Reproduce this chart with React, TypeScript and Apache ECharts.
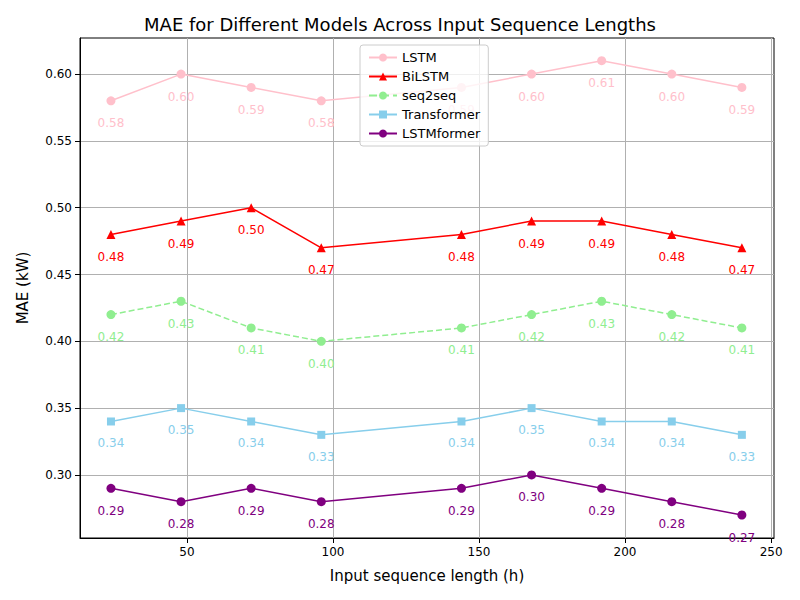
import React, { useEffect, useRef } from 'react';
import * as echarts from 'echarts';

const xValues = [24, 48, 72, 96, 144, 168, 192, 216, 240];
const lstm = [0.58, 0.6, 0.59, 0.58, 0.59, 0.6, 0.61, 0.6, 0.59];
const bilstm = [0.48, 0.49, 0.5, 0.47, 0.48, 0.49, 0.49, 0.48, 0.47];
const seq2seq = [0.42, 0.43, 0.41, 0.4, 0.41, 0.42, 0.43, 0.42, 0.41];
const transformer = [0.34, 0.35, 0.34, 0.33, 0.34, 0.35, 0.34, 0.34, 0.33];
const lstmformer = [0.29, 0.28, 0.29, 0.28, 0.29, 0.3, 0.29, 0.28, 0.27];
const xTicks = [50, 100, 150, 200, 250];
const yTicks = [0.3, 0.35, 0.4, 0.45, 0.5, 0.55, 0.6];

const seriesDefs = [
  { name: 'LSTM', data: lstm, color: '#ffc0cb', symbol: 'circle', dashed: false },
  { name: 'BiLSTM', data: bilstm, color: '#ff0000', symbol: 'triangle', dashed: false },
  { name: 'seq2seq', data: seq2seq, color: '#90ee90', symbol: 'circle', dashed: true },
  { name: 'Transformer', data: transformer, color: '#87ceeb', symbol: 'rect', dashed: false },
  { name: 'LSTMformer', data: lstmformer, color: '#800080', symbol: 'circle', dashed: false },
];

const App: React.FC = () => {
  const ref = useRef<HTMLDivElement>(null);
  useEffect(() => {
    if (!ref.current) return;
    const chart = echarts.init(ref.current, undefined, { renderer: 'svg' });
    const font = 'DejaVu Sans';
    chart.setOption({
      animation: false,
      backgroundColor: '#fff',
      textStyle: { fontFamily: font },
      title: {
        text: 'MAE for Different Models Across Input Sequence Lengths',
        left: 'center', top: 10,
        textStyle: { fontSize: 18, fontWeight: 'normal', color: '#000', fontFamily: font },
      },
      legend: {
        orient: 'vertical', left: 360, top: 45, z: 10,
        backgroundColor: 'rgba(255,255,255,0.8)', borderColor: '#ccc', borderWidth: 1, borderRadius: 3,
        padding: [6, 8], itemGap: 6, itemWidth: 28, itemHeight: 10,
        textStyle: { fontSize: 13, color: '#000', fontFamily: font },
      },
      grid: { left: 80, right: 26, top: 38, bottom: 62, containLabel: false, show: true, borderColor: '#000', borderWidth: 1 },
      xAxis: {
        type: 'value', min: 13.4, max: 251,
        name: 'Input sequence length (h)', nameLocation: 'middle', nameGap: 30,
        nameTextStyle: { fontSize: 15, color: '#000', fontFamily: font },
        axisLine: { lineStyle: { color: '#000' } },
        axisTick: { show: true, customValues: xTicks, lineStyle: { color: '#000' } },
        axisLabel: { customValues: xTicks, color: '#000', fontSize: 12, fontFamily: font },
        splitLine: { show: true, lineStyle: { color: '#b0b0b0' } },
      },
      yAxis: {
        type: 'value', min: 0.2528, max: 0.627,
        name: 'MAE (kW)', nameLocation: 'middle', nameGap: 50,
        nameTextStyle: { fontSize: 15, color: '#000', fontFamily: font },
        axisLine: { show: true, lineStyle: { color: '#000' } },
        axisTick: { show: true, customValues: yTicks, lineStyle: { color: '#000' } },
        axisLabel: { customValues: yTicks, color: '#000', fontSize: 12, fontFamily: font, formatter: (v: number) => v.toFixed(2) },
        splitLine: { show: true, lineStyle: { color: '#b0b0b0' } },
      },
      series: seriesDefs.map((s) => ({
        name: s.name, type: 'line', symbol: s.symbol, symbolSize: s.symbol === 'rect' ? 8 : 9,
        data: s.data.map((v, i) => [xValues[i], v]),
        itemStyle: { color: s.color },
        lineStyle: { color: s.color, width: 1.5, type: s.dashed ? 'dashed' : 'solid' },
        label: {
          show: true, position: 'bottom', distance: 12, color: s.color, fontSize: 12, fontFamily: font,
          formatter: (p: any) => p.value[1].toFixed(2),
        },
        z: 2,
      })),
    });
    return () => chart.dispose();
  }, []);
  return <div ref={ref} style={{ width: 800, height: 600, marginLeft: -8, marginTop: -8 }} />;
};

export default App;
